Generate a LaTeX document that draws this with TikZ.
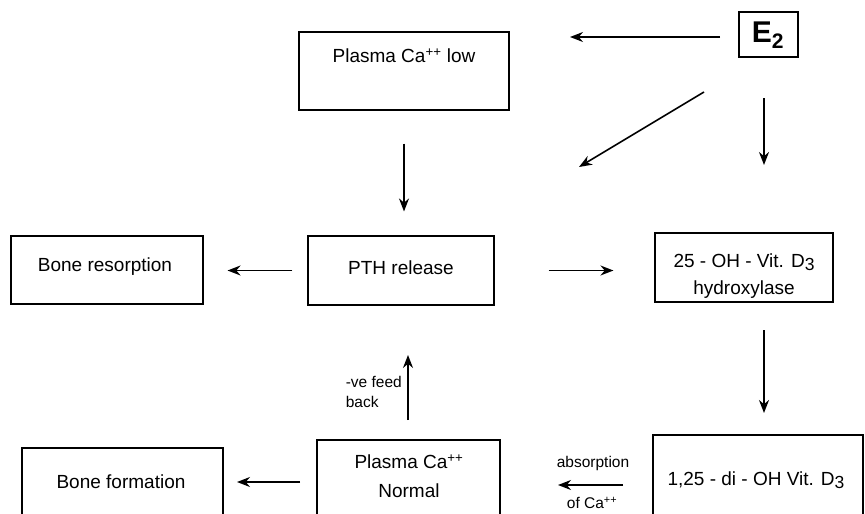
\documentclass[tikz,border=0pt]{standalone}
\usepackage{fontspec}
\setmainfont{Liberation Sans}
\usetikzlibrary{arrows.meta}

\begin{document}
\begin{tikzpicture}[x=1pt, y=-1pt,
		box/.style={draw=black, line width=1.1pt, inner sep=0pt},
		txt/.style={font=\fontsize{19}{22}\selectfont, inner sep=0pt, align=center},
		small/.style={font=\fontsize{15.5}{20}\selectfont, inner sep=0pt, align=left},
		freccia/.style={-{Stealth[length=13pt, width=10pt]}, line width=1.6pt}]
	
	\useasboundingbox (0,0) rectangle (865,514);
	\clip (0,0) rectangle (865,514);
	
	%% --- caselle ---
	\node[box, minimum width=210pt, minimum height=78pt]  (low)   at (404,71)    {};
	\node[box, minimum width=59pt,  minimum height=45pt]  (e2)    at (768.5,34.5) {};
	\node[box, minimum width=192pt, minimum height=68pt]  (bres)  at (107,270)   {};
	\node[box, minimum width=186pt, minimum height=69pt]  (pth)   at (401,270.5) {};
	\node[box, minimum width=178pt, minimum height=69pt]  (oh)    at (744,267.5) {};
	\node[box, minimum width=201pt, minimum height=92pt]  (bform) at (122.5,494) {};
	\node[box, minimum width=183pt, minimum height=100pt] (norm)  at (408.5,490) {};
	\node[box, minimum width=210pt, minimum height=105pt] (di)    at (758,487.5) {};
	
	%% --- testi ---
	\node[txt] (lowT)   at (404,56)  {Plasma Ca\textsuperscript{++} low};
	\node[txt, font=\fontsize{30}{34}\selectfont\bfseries] (e2T) at (768,35) {E\textsubscript{2}};
	\node[txt] (bresT)  at (105,267) {Bone resorption};
	\node[txt] (pthT)   at (401,268) {PTH release};
	\node[txt] (ohT1)   at (744,262) {25 - OH - Vit. D\raisebox{-0.3ex}{\fontsize{17.5}{17}\selectfont 3}};
	\node[txt] (ohT2)   at (744,290) {hydroxylase};
	\node[txt] (bformT) at (121,482) {Bone formation};
	\node[txt] (normT1) at (409,462) {Plasma Ca\textsuperscript{++}};
	\node[txt] (normT2) at (409,491) {Normal};
	\node[txt] (diT)    at (756,480) {1,25 - di - OH Vit. D\raisebox{-0.3ex}{\fontsize{17.5}{17}\selectfont 3}};
	
	%% --- etichette delle frecce ---
	\node[small, anchor=east] (fb)  at (402,392) {-ve feed\\back};
	\node[small] (abs)  at (593,463) {absorption};
	\node[small] (ofca) at (592,503) {of Ca\textsuperscript{++}};
	
	%% --- estremi liberi delle frecce ---
	\coordinate (a1s) at (720,37);  \coordinate (a1e) at (570,37);
	\coordinate (a2s) at (704,92);  \coordinate (a2e) at (579,167);
	\coordinate (a3s) at (764,98);  \coordinate (a3e) at (764,165);
	\coordinate (a7s) at (764,330); \coordinate (a7e) at (764,413);
	\coordinate (a8s) at (408,420); \coordinate (a8e) at (408,355);
	\coordinate (a9s) at (623,485); \coordinate (a9e) at (558,485);
	\coordinate (a10s) at (300,482); \coordinate (a10e) at (237,482);
	
	%% --- frecce ---
	\draw[freccia] (a1s) -- (a1e);
	\draw[freccia] (a2s) -- (a2e);
	\draw[freccia] (a3s) -- (a3e);
	\draw[freccia, shorten <=33pt, shorten >=24pt] (low.south) -- (low.south |- pth.north);
	\draw[freccia, shorten <=15pt, shorten >=24pt] (pth.west) -- (pth.west -| bres.east);
	\draw[freccia, shorten <=54pt, shorten >=41pt] (pth.east) -- (pth.east -| oh.west);
	\draw[freccia] (a7s) -- (a7e);
	\draw[freccia] (a8s) -- (a8e);
	\draw[freccia] (a9s) -- (a9e);
	\draw[freccia] (a10s) -- (a10e);
	
\end{tikzpicture}
\end{document}
